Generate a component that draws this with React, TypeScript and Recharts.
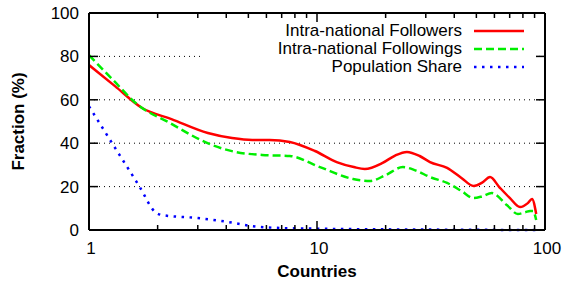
import React from 'react';
import { LineChart, Line, XAxis, YAxis, CartesianGrid, Legend, ReferenceLine } from 'recharts';

// ---- data ----
const followersX = [1, 1.3, 1.71, 2.3, 3.32, 4.24, 5.2, 6.2, 7.6, 9.8, 12.2, 14.5, 16.2, 19.4, 22, 24.8, 28.2, 31.3, 37.2, 43, 48.6, 53, 57.4, 63, 70.2, 77.7, 84.1, 87.7, 91.5];
const followersY = [76, 66.3, 56.2, 51.1, 44.7, 42.4, 41.5, 41.5, 40.6, 36.4, 31.3, 29, 28.1, 30.9, 34.3, 36, 34.1, 31.3, 28.6, 24, 20.3, 21.8, 24.4, 19.8, 14.7, 10.6, 12.4, 14.3, 7.4];

const followingsX = [1, 1.27, 1.64, 2.22, 3.46, 4.37, 5.74, 7.6, 10.3, 14.4, 17.1, 20, 23.8, 27, 31.3, 37.2, 43, 48.6, 53, 58.4, 68, 76, 82, 86, 88.6, 91.5];
const followingsY = [80.6, 69.3, 57.6, 49.8, 39.2, 36, 34.6, 34.1, 29, 23.5, 22.6, 25.3, 29, 27.5, 24.4, 21.7, 18, 14.7, 15.5, 17, 11.5, 7.4, 8.2, 8.8, 8.8, 4.6];

const populationX = [1, 1.27, 1.67, 1.95, 2.09, 3.0, 4.07, 5.2, 7, 10, 15, 20, 30, 50, 70, 91.5];
const populationY = [57, 39.6, 19.8, 8.3, 6.9, 5.5, 3.7, 1.8, 0.9, 0.6, 0.4, 0.3, 0.2, 0.1, 0.05, 0.05];

const xTicks = [1, 2, 3, 4, 5, 6, 7, 8, 9, 10, 20, 30, 40, 50, 60, 70, 80, 90, 100];
const xMajorTicks = [1, 10, 100];
const yTicks = [0, 20, 40, 60, 80, 100];

const seriesNames = ['Intra-national Followers', 'Intra-national Followings', 'Population Share'];
const xTitle = 'Countries';
const yTitle = 'Fraction (%)';

// ---- layout / style ----
const W = 564;
const H = 282;
const PLOT_LEFT = 89;
const PLOT_RIGHT = 545;
const PLOT_TOP = 13;
const PLOT_BOTTOM = 230;
const FONT = '"Liberation Sans", Arial, Helvetica, sans-serif';
const FS = 17;

const seriesStyles = [
  { color: '#ff0000', dash: undefined as string | undefined },
  { color: '#00ee00', dash: '8 4' },
  { color: '#0000ff', dash: '2.5 5.5' },
];

const toPoints = (xs: number[], ys: number[]) => xs.map((x, i) => ({ x, y: ys[i] }));
const followersData = toPoints(followersX, followersY);
const followingsData = toPoints(followingsX, followingsY);
const populationData = toPoints(populationX, populationY);
const seriesData = [followersData, followingsData, populationData];

const XTick = (props: any) => {
  const { x, payload } = props;
  const v = payload.value;
  const major = xMajorTicks.includes(v);
  const len = major ? 9 : 5;
  return (
    <g>
      <line x1={x} y1={PLOT_BOTTOM} x2={x} y2={PLOT_BOTTOM - len} stroke="#000" strokeWidth={1.5} />
      <line x1={x} y1={PLOT_TOP} x2={x} y2={PLOT_TOP + len} stroke="#000" strokeWidth={1.5} />
      {major && (
        <text x={x + 2} y={254} textAnchor="middle" fontFamily={FONT} fontSize={FS} fill="#000">
          {v}
        </text>
      )}
    </g>
  );
};

const YTick = (props: any) => {
  const { y, payload } = props;
  return (
    <g>
      <line x1={PLOT_LEFT} y1={y} x2={PLOT_LEFT + 9} y2={y} stroke="#000" strokeWidth={1.5} />
      <line x1={PLOT_RIGHT} y1={y} x2={PLOT_RIGHT - 9} y2={y} stroke="#000" strokeWidth={1.5} />
      <text x={79} y={y + 6} textAnchor="end" fontFamily={FONT} fontSize={FS} fill="#000">
        {payload.value}
      </text>
    </g>
  );
};

const LegendBox = () => (
  <div style={{ background: '#fff', paddingTop: 0, paddingRight: 11, fontFamily: FONT, fontSize: FS, color: '#000' }}>
    {seriesNames.map((name, i) => (
      <div key={name} style={{ display: 'flex', justifyContent: 'flex-end', alignItems: 'center', height: 18, lineHeight: '18px' }}>
        <span style={{ whiteSpace: 'nowrap' }}>{name}</span>
        <svg width={50} height={6} style={{ marginLeft: 12, display: 'block' }}>
          <line x1={0} y1={3} x2={50} y2={3} stroke={seriesStyles[i].color} strokeWidth={2.5} strokeDasharray={seriesStyles[i].dash} />
        </svg>
      </div>
    ))}
  </div>
);

export default function App() {
  return (
    <div style={{ position: 'fixed', left: 0, top: 0, width: W, height: H, background: '#fff' }}>
      <LineChart width={W} height={H} margin={{ top: PLOT_TOP, right: W - PLOT_RIGHT, bottom: 0, left: 0 }}>
        <CartesianGrid horizontal vertical={false} stroke="#000" strokeWidth={1} strokeDasharray="1 4" />
        <XAxis
          type="number"
          dataKey="x"
          scale="log"
          domain={[1, 100]}
          ticks={xTicks}
          interval={0}
          tick={<XTick />}
          tickLine={false}
          axisLine={{ stroke: '#000', strokeWidth: 2 }}
          height={H - PLOT_BOTTOM}
          allowDataOverflow
        />
        <YAxis
          type="number"
          domain={[0, 100]}
          ticks={yTicks}
          interval={0}
          tick={<YTick />}
          tickLine={false}
          axisLine={{ stroke: '#000', strokeWidth: 2 }}
          width={PLOT_LEFT}
        />
        <ReferenceLine y={100} stroke="#000" strokeWidth={2} />
        <ReferenceLine x={100} stroke="#000" strokeWidth={2} />
        {seriesData.map((d, i) => (
          <Line
            key={seriesNames[i]}
            data={d}
            dataKey="y"
            name={seriesNames[i]}
            type="monotone"
            stroke={seriesStyles[i].color}
            strokeWidth={2.5}
            strokeDasharray={seriesStyles[i].dash}
            dot={false}
            activeDot={false}
            isAnimationActive={false}
          />
        ))}
        <Legend
          layout="horizontal"
          verticalAlign="middle"
          align="center"
          content={<LegendBox />}
          wrapperStyle={{ position: 'absolute', left: 200, top: 22, width: 335, height: 56 }}
        />
      </LineChart>
      <svg width={W} height={H} style={{ position: 'absolute', left: 0, top: 0, pointerEvents: 'none' }}>
        <text x={18} y={121.5} transform="rotate(-90 18 121.5)" textAnchor="middle" dominantBaseline="central" fontFamily={FONT} fontSize={FS} fontWeight="bold" fill="#000">
          {yTitle}
        </text>
        <text x={317} y={277} textAnchor="middle" fontFamily={FONT} fontSize={FS} fontWeight="bold" fill="#000">
          {xTitle}
        </text>
      </svg>
    </div>
  );
}
